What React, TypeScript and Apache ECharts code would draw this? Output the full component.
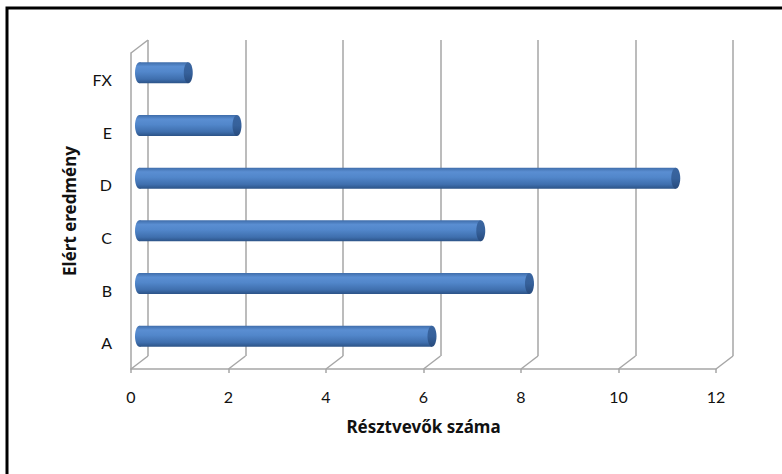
import React, { useEffect, useRef } from "react";
import * as echarts from "echarts";

const categories = ["A", "B", "C", "D", "E", "FX"];
const values = [6, 8, 7, 11, 2, 1];
const tickValues = [0, 2, 4, 6, 8, 10, 12];
const xTitle = "Résztvevők száma";
const yTitle = "Elért eredmény";

const FONT = "Lato, 'Open Sans', sans-serif";
const TITLE_FONT = "'Noto Sans', 'Open Sans', sans-serif";
const GRID_COLOR = "#A6A6A6";
const DX = 17;
const DY = -13;

export default function App() {
  const ref = useRef<HTMLDivElement>(null);
  useEffect(() => {
    if (!ref.current) return;
    const chart = echarts.init(ref.current, null, { renderer: "svg" });

    const bodyGrad = new echarts.graphic.LinearGradient(0, 0, 0, 1, [
      { offset: 0, color: "#3F6DAA" },
      { offset: 0.2, color: "#5A8ED2" },
      { offset: 0.45, color: "#5287CB" },
      { offset: 0.8, color: "#3F6FAE" },
      { offset: 1, color: "#2C5387" },
    ]);
    const capGrad = new echarts.graphic.LinearGradient(0, 0, 0, 1, [
      { offset: 0, color: "#3A65A0" },
      { offset: 0.5, color: "#36619B" },
      { offset: 1, color: "#274A7C" },
    ]);

    const option: any = {
      animation: false,
      backgroundColor: "#ffffff",
      graphic: [
        {
          type: "rect",
          shape: { x: 7, y: 8, width: 820, height: 520 },
          style: { fill: "none", stroke: "#000", lineWidth: 3 },
          silent: true,
        },
      ],
      grid: [
        { left: 148, top: 40, width: 585, height: 316 },
        { left: 131, top: 53, width: 585, height: 316 },
        { left: 139.5, top: 46.5, width: 585, height: 316 },
      ],
      xAxis: [
        {
          gridIndex: 0,
          type: "value",
          min: 0,
          max: 12,
          interval: 2,
          axisLine: { show: false },
          axisTick: { show: false },
          axisLabel: { show: false },
          splitLine: { show: true, lineStyle: { color: GRID_COLOR, width: 1.5 } },
        },
        {
          gridIndex: 1,
          type: "value",
          min: 0,
          max: 12,
          interval: 2,
          axisLine: { show: true, lineStyle: { color: GRID_COLOR, width: 1.5 } },
          axisTick: { show: true, length: 4, lineStyle: { color: GRID_COLOR, width: 1.5 } },
          axisLabel: {
            show: true,
            color: "#111",
            fontFamily: FONT,
            fontSize: 16,
            margin: 19,
            formatter: (v: number) => (tickValues.includes(v) ? String(v) : ""),
          },
          splitLine: { show: false },
          name: xTitle,
          nameLocation: "middle",
          nameGap: 49,
          nameTextStyle: { fontFamily: TITLE_FONT, fontSize: 17, fontWeight: "bold", color: "#111" },
        },
        {
          gridIndex: 2,
          type: "value",
          min: 0,
          max: 12,
          interval: 2,
          show: false,
        },
      ],
      yAxis: [
        { gridIndex: 0, type: "category", data: categories, show: false },
        {
          gridIndex: 1,
          type: "category",
          data: categories,
          axisLine: { show: true, lineStyle: { color: GRID_COLOR, width: 1.5 } },
          axisTick: { show: false },
          axisLabel: {
            color: "#111",
            fontFamily: FONT,
            fontSize: 16,
            margin: 19,
            padding: [6, 0, 0, 0],
          },
          name: yTitle,
          nameLocation: "middle",
          nameGap: 53,
          nameRotate: 90,
          nameTextStyle: { fontFamily: TITLE_FONT, fontSize: 17, fontWeight: "bold", color: "#111" },
        },
        { gridIndex: 2, type: "category", data: categories, show: false },
      ],
      series: [
        {
          type: "custom",
          xAxisIndex: 1,
          yAxisIndex: 1,
          silent: true,
          data: tickValues.map((t) => [t]),
          renderItem: (params: any, api: any) => {
            const cs = params.coordSys;
            const v = api.value(0);
            const x = api.coord([v, 0])[0];
            const bottom = cs.y + cs.height;
            const children: any[] = [
              {
                type: "line",
                shape: { x1: x, y1: bottom, x2: x + DX, y2: bottom + DY },
                style: { stroke: GRID_COLOR, lineWidth: 1.5 },
              },
            ];
            if (v === 0) {
              children.push({
                type: "line",
                shape: { x1: x, y1: cs.y, x2: x + DX, y2: cs.y + DY },
                style: { stroke: GRID_COLOR, lineWidth: 1.5 },
              });
            }
            return { type: "group", children };
          },
        },
        {
          type: "custom",
          xAxisIndex: 2,
          yAxisIndex: 2,
          silent: true,
          data: values.map((v, i) => [v, i]),
          renderItem: (params: any, api: any) => {
            const v = api.value(0);
            const idx = api.value(1);
            const s = api.coord([0, idx]);
            const e = api.coord([v, idx]);
            const h = 21;
            const rx = 4.5;
            const cy = s[1];
            return {
              type: "group",
              children: [
                {
                  type: "ellipse",
                  shape: { cx: s[0], cy, rx, ry: h / 2 },
                  style: { fill: bodyGrad },
                },
                {
                  type: "rect",
                  shape: { x: s[0], y: cy - h / 2, width: e[0] - s[0], height: h },
                  style: { fill: bodyGrad },
                },
                {
                  type: "ellipse",
                  shape: { cx: e[0], cy, rx, ry: h / 2 },
                  style: { fill: capGrad },
                },
              ],
            };
          },
        },
      ],
    };
    chart.setOption(option);
    return () => chart.dispose();
  }, []);

  return (
    <div
      ref={ref}
      style={{ position: "fixed", left: 0, top: 0, width: 782, height: 474 }}
    />
  );
}
